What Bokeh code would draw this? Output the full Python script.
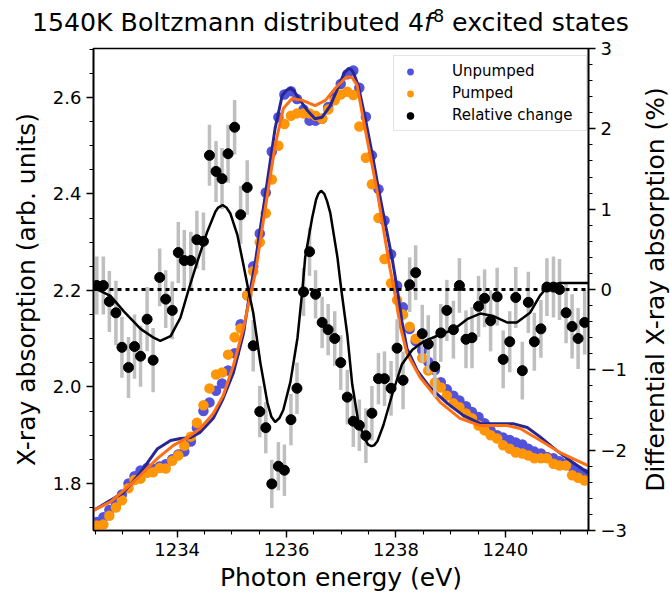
from bokeh.plotting import figure
from bokeh.layouts import column, row
from bokeh.models import (Range1d, LinearAxis, SingleIntervalTicker, Span, Div,
                          CustomJSTickFormatter, PrintfTickFormatter)
from bokeh.embed import file_html
from bokeh.resources import INLINE

# ---------------- data ----------------
energy = [1232.53, 1232.65, 1232.76, 1232.88, 1232.99, 1233.11, 1233.22, 1233.33, 1233.45, 1233.56,
          1233.68, 1233.79, 1233.91, 1234.02, 1234.13, 1234.25, 1234.36, 1234.48, 1234.59, 1234.71,
          1234.82, 1234.93, 1235.05, 1235.16, 1235.28, 1235.39, 1235.51, 1235.62, 1235.73, 1235.85,
          1235.96, 1236.08, 1236.19, 1236.31, 1236.42, 1236.53, 1236.65, 1236.76, 1236.88, 1236.99,
          1237.11, 1237.22, 1237.33, 1237.45, 1237.56, 1237.68, 1237.79, 1237.91, 1238.02, 1238.13,
          1238.25, 1238.36, 1238.48, 1238.59, 1238.71, 1238.82, 1238.93, 1239.05, 1239.16, 1239.28,
          1239.39, 1239.51, 1239.62, 1239.73, 1239.85, 1239.96, 1240.08, 1240.19, 1240.31, 1240.42,
          1240.53, 1240.65, 1240.76, 1240.88, 1240.99, 1241.11, 1241.22, 1241.33, 1241.45]

unpumped = [1.720, 1.730, 1.745, 1.758, 1.777, 1.800, 1.815, 1.827, 1.832, 1.830,
            1.835, 1.840, 1.850, 1.860, 1.866, 1.887, 1.915, 1.950, 1.968, 1.992,
            2.007, 2.034, 2.070, 2.130, 2.190, 2.250, 2.318, 2.403, 2.488, 2.559,
            2.606, 2.613, 2.597, 2.575, 2.552, 2.552, 2.556, 2.580, 2.600, 2.628,
            2.648, 2.656, 2.620, 2.560, 2.480, 2.410, 2.345, 2.275, 2.210, 2.165,
            2.120, 2.095, 2.076, 2.052, 2.035, 2.010, 1.995, 1.982, 1.972, 1.960,
            1.948, 1.938, 1.925, 1.910, 1.900, 1.895, 1.890, 1.885, 1.881, 1.872,
            1.866, 1.862, 1.855, 1.852, 1.846, 1.841, 1.835, 1.827, 1.820]

pumped = [1.713, 1.715, 1.733, 1.750, 1.765, 1.790, 1.807, 1.810, 1.822, 1.823,
          1.832, 1.831, 1.847, 1.858, 1.878, 1.897, 1.926, 1.962, 1.997, 2.026,
          2.030, 2.067, 2.103, 2.121, 2.190, 2.240, 2.300, 2.360, 2.430, 2.500,
          2.545, 2.562, 2.567, 2.567, 2.567, 2.562, 2.556, 2.575, 2.594, 2.606,
          2.612, 2.605, 2.540, 2.475, 2.420, 2.350, 2.265, 2.215, 2.180, 2.150,
          2.125, 2.100, 2.060, 2.034, 2.009, 1.999, 1.982, 1.966, 1.958, 1.945,
          1.935, 1.920, 1.910, 1.900, 1.893, 1.879, 1.872, 1.864, 1.862, 1.858,
          1.852, 1.852, 1.852, 1.841, 1.837, 1.837, 1.817, 1.812, 1.806]

rel_change = [0.05, 0.05, -0.15, -0.29, -0.72, -0.97, -0.71, -0.83, -0.37, -0.88,
              0.15, -0.12, -0.26, 0.46, 0.36, 0.36, 0.62, 0.60, 1.67, 1.47,
              1.38, 1.69, 2.02, 0.93, 1.27, -0.70, -1.52, -1.72, -2.42, -2.20,
              -2.25, -1.62, -1.23, -0.03, 0.47, -0.06, -0.41, -0.50, -0.61, -0.91,
              -1.34, -1.64, -1.69, -1.82, -1.54, -1.11, -1.11, -1.23, -0.73, -1.13,
              0.06, 0.21, -0.55, -0.68, -0.96, -0.54, -0.26, -0.50, 0.05, -0.62,
              -0.60, -0.21, -0.11, -0.39, -0.09, -0.87, -0.65, -0.10, -1.01, -0.16,
              -0.65, -0.49, 0.03, 0.03, 0.00, -0.29, -0.46, -0.61, -0.41]

rel_error = [0.36, 0.36, 0.38, 0.40, 0.38, 0.38, 0.40, 0.38, 0.40, 0.40,
             0.36, 0.36, 0.36, 0.38, 0.38, 0.36, 0.36, 0.36, 0.38, 0.38,
             0.38, 0.36, 0.34, 0.36, 0.34, 0.32, 0.32, 0.32, 0.30, 0.30,
             0.32, 0.32, 0.32, 0.30, 0.30, 0.30, 0.32, 0.32, 0.34, 0.34,
             0.34, 0.32, 0.32, 0.34, 0.34, 0.32, 0.34, 0.34, 0.36, 0.36,
             0.34, 0.34, 0.36, 0.36, 0.38, 0.36, 0.38, 0.36, 0.34, 0.36,
             0.38, 0.38, 0.36, 0.38, 0.36, 0.36, 0.38, 0.38, 0.36, 0.38,
             0.36, 0.36, 0.36, 0.38, 0.38, 0.38, 0.40, 0.38, 0.40]

fit_unpumped_e = [1232.47, 1232.78, 1233.02, 1233.33, 1233.64, 1233.88, 1234.06, 1234.24, 1234.42, 1234.66,
                  1234.84, 1235.03, 1235.21, 1235.32, 1235.43, 1235.61, 1235.79, 1235.92, 1236.00, 1236.07,
                  1236.14, 1236.21, 1236.38, 1236.52, 1236.65, 1236.80, 1236.98, 1237.05, 1237.13, 1237.18,
                  1237.22, 1237.31, 1237.44, 1237.57, 1237.68, 1237.80, 1237.93, 1238.02, 1238.11, 1238.20,
                  1238.39, 1238.62, 1238.94, 1239.23, 1239.54, 1239.85, 1240.14, 1240.40, 1240.63, 1240.94,
                  1241.24, 1241.51]
fit_unpumped = [1.744, 1.765, 1.781, 1.823, 1.872, 1.889, 1.893, 1.895, 1.906, 1.935,
                1.976, 2.030, 2.110, 2.190, 2.260, 2.397, 2.536, 2.604, 2.615, 2.619,
                2.613, 2.600, 2.573, 2.556, 2.559, 2.583, 2.631, 2.650, 2.660, 2.658,
                2.652, 2.625, 2.556, 2.480, 2.411, 2.341, 2.266, 2.205, 2.135, 2.080,
                2.034, 1.999, 1.966, 1.941, 1.924, 1.924, 1.924, 1.916, 1.897, 1.868,
                1.843, 1.822]

fit_pumped_e = [1232.47, 1232.78, 1233.02, 1233.33, 1233.64, 1233.93, 1234.19, 1234.42, 1234.66, 1234.84,
                1235.03, 1235.21, 1235.32, 1235.43, 1235.61, 1235.79, 1235.94, 1236.10, 1236.29, 1236.52,
                1236.71, 1236.89, 1237.07, 1237.14, 1237.20, 1237.29, 1237.40, 1237.53, 1237.66, 1237.77,
                1237.89, 1237.97, 1238.08, 1238.20, 1238.44, 1238.81, 1239.17, 1239.54, 1240.03, 1240.27,
                1240.58, 1241.00, 1241.51]
fit_pumped = [1.744, 1.762, 1.785, 1.817, 1.852, 1.879, 1.895, 1.914, 1.945, 1.982,
              2.045, 2.121, 2.180, 2.237, 2.370, 2.500, 2.577, 2.598, 2.594, 2.583,
              2.594, 2.619, 2.640, 2.643, 2.641, 2.625, 2.556, 2.480, 2.403, 2.328,
              2.246, 2.200, 2.125, 2.070, 2.020, 1.968, 1.935, 1.920, 1.920, 1.914,
              1.893, 1.864, 1.837]

fit_rel_e = [1232.47, 1232.60, 1232.78, 1233.02, 1233.33, 1233.57, 1233.69, 1233.88, 1234.06, 1234.21,
             1234.37, 1234.55, 1234.70, 1234.75, 1234.83, 1234.90, 1234.97, 1235.10, 1235.21, 1235.30,
             1235.39, 1235.52, 1235.65, 1235.72, 1235.79, 1235.87, 1235.94, 1236.07, 1236.20, 1236.29,
             1236.34, 1236.47, 1236.54, 1236.58, 1236.63, 1236.69, 1236.74, 1236.80, 1236.93, 1237.00,
             1237.11, 1237.20, 1237.31, 1237.44, 1237.49, 1237.55, 1237.60, 1237.66, 1237.77, 1237.93,
             1238.11, 1238.30, 1238.50, 1238.81, 1239.05, 1239.30, 1239.54, 1239.78, 1240.03, 1240.21,
             1240.45, 1240.63, 1240.78, 1241.00, 1241.51]
fit_rel = [0.02, -0.02, -0.08, -0.27, -0.49, -0.60, -0.64, -0.58, -0.35, 0.00,
           0.35, 0.72, 0.97, 1.02, 1.05, 1.02, 0.95, 0.68, 0.31, 0.00,
           -0.29, -0.91, -1.41, -1.58, -1.65, -1.60, -1.50, -1.15, -0.60, 0.00,
           0.40, 0.90, 1.12, 1.19, 1.23, 1.19, 1.10, 0.95, 0.40, 0.00,
           -0.56, -1.18, -1.64, -1.87, -1.93, -1.95, -1.94, -1.89, -1.69, -1.31,
           -0.93, -0.75, -0.65, -0.56, -0.50, -0.37, -0.30, -0.33, -0.41, -0.41,
           -0.29, -0.08, 0.04, 0.08, 0.08]

title_parts = ["1540K Boltzmann distributed 4", "f", "8", " excited states"]
right_label = "Differential X-ray absorption (%)"

FONT = "DejaVu Sans"
TITLE_H = 36          # title strip height
TOP_PAD = 12          # room above the frame for the top tick label
RIGHT_W = 30
PLOT_H = 604 - TITLE_H
PLOT_W = 670 - RIGHT_W
FRAME_H = PLOT_H - TOP_PAD - 74

# ---------------- title (HTML text: italic f, superscript 8) ----------------
title_html = (
    f'<div style="width:670px;height:{TITLE_H}px;box-sizing:border-box;padding-top:10px;'
    "padding-left:32px;text-align:left;font-family:'DejaVu Sans';font-size:25.2px;line-height:1;"
    'color:black;white-space:nowrap;">'
    f'{title_parts[0]}<i>{title_parts[1]}</i>'
    f'<sup style="font-size:0.7em;line-height:0;">{title_parts[2]}</sup>{title_parts[3]}</div>'
)
title_div = Div(text=title_html, width=670, height=TITLE_H, margin=0)

# ---------------- right-hand axis title (reads bottom to top) ----------------
right_html = (
    f'<div style="width:{RIGHT_W}px;height:{FRAME_H}px;margin-top:{TOP_PAD}px;display:flex;'
    'align-items:center;justify-content:center;">'
    '<div style="transform:rotate(-90deg);white-space:nowrap;'
    "font-family:'DejaVu Sans';font-size:25px;line-height:1;color:black;\">"
    f'{right_label}</div></div>'
)
right_div = Div(text=right_html, width=RIGHT_W, height=PLOT_H, margin=0)

# ---------------- main plot ----------------
p = figure(width=PLOT_W, height=PLOT_H, output_backend="svg", toolbar_location=None,
           x_range=Range1d(1232.47, 1241.52), y_range=Range1d(1.7025, 2.7015),
           min_border_left=93, min_border_right=PLOT_W - 588, min_border_top=TOP_PAD,
           min_border_bottom=74)
p.extra_y_ranges = {"rel": Range1d(-3, 3)}
p.xgrid.visible = False
p.ygrid.visible = False
p.outline_line_color = "black"
p.outline_line_width = 1.6

p.scatter(energy, unpumped, size=10.5, color="#5252dc", line_color=None, legend_label="Unpumped")
p.scatter(energy, pumped, size=10.5, color="#ff960a", line_color=None, legend_label="Pumped")
p.line(fit_unpumped_e, fit_unpumped, line_color="#262696", line_width=3)
p.line(fit_pumped_e, fit_pumped, line_color="#ff7014", line_width=3)

lo = [v - e for v, e in zip(rel_change, rel_error)]
hi = [v + e for v, e in zip(rel_change, rel_error)]
p.segment(x0=energy, y0=lo, x1=energy, y1=hi, y_range_name="rel",
          line_color="#bfbfbf", line_width=3.5)
p.scatter(energy, rel_change, size=10, color="black", y_range_name="rel",
          legend_label="Relative change")
p.line(fit_rel_e, fit_rel, y_range_name="rel", line_color="black", line_width=2.5)
p.add_layout(Span(location=0, dimension="width", y_range_name="rel",
                  line_color="black", line_dash="4 4", line_width=3))

right = LinearAxis(y_range_name="rel")
p.add_layout(right, "right")
p.xaxis.ticker = SingleIntervalTicker(interval=2, num_minor_ticks=4)
p.yaxis[0].ticker = SingleIntervalTicker(interval=0.2, num_minor_ticks=4)
p.yaxis[0].formatter = PrintfTickFormatter(format="%.1f")
right.ticker = SingleIntervalTicker(interval=1, num_minor_ticks=5)
right.formatter = CustomJSTickFormatter(
    code="return tick < 0 ? '\u2212' + Math.abs(tick).toFixed(0) : tick.toFixed(0);")

p.xaxis.axis_label = "Photon energy (eV)"
p.yaxis[0].axis_label = "X-ray absorption (arb. units)"

for ax in p.xaxis + p.yaxis:
    ax.major_tick_out = 7
    ax.major_tick_in = 0
    ax.minor_tick_out = 4
    ax.minor_tick_in = 0
    ax.major_tick_line_color = "black"
    ax.minor_tick_line_color = "black"
    ax.major_tick_line_width = 1.4
    ax.minor_tick_line_width = 1.1
    ax.axis_line_color = "black"
    ax.axis_line_width = 1.6
    ax.major_label_text_font = FONT
    ax.major_label_text_font_size = "18px"
    ax.major_label_text_color = "black"
    ax.axis_label_text_font = FONT
    ax.axis_label_text_font_size = "25px"
    ax.axis_label_text_font_style = "normal"
    ax.axis_label_text_color = "black"
    ax.axis_label_standoff = 9
p.xaxis.axis_label_standoff = 4

lg = p.legend[0]
lg.location = (300, 399)
lg.margin = 0
lg.padding = 6
lg.spacing = 4
lg.glyph_height = 17
lg.glyph_width = 20
lg.label_standoff = 32
lg.label_width = 128
lg.label_text_font = FONT
lg.label_text_font_size = "15px"
lg.label_text_color = "black"
lg.border_line_color = "#cccccc"
lg.border_line_width = 1.2
lg.background_fill_alpha = 0.85

layout = column(title_div, row(p, right_div, spacing=0), spacing=0)
open("out.html", "w").write(file_html(layout, INLINE))
